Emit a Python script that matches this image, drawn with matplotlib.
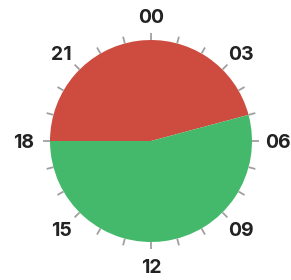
import matplotlib
matplotlib.use("Agg")
import matplotlib.pyplot as plt
import numpy as np

segments = ["night", "day"]
hours = [11, 13]          # 18:00 -> 05:00 red, 05:00 -> 18:00 green
colors = ["#cd4c3f", "#44b96b"]
tick_hours = list(range(24))
label_hours = [0, 3, 6, 9, 12, 15, 18, 21]
labels = ["00", "03", "06", "09", "12", "15", "18", "21"]

plt.rcParams['font.family'] = ['Inter', 'DejaVu Sans']

fig = plt.figure(figsize=(2.91, 2.80), dpi=100)
ax = fig.add_axes([0, 0, 1, 1])
ax.axis('off')

R = 101
ax.pie(hours, colors=colors, startangle=180, counterclock=False, radius=R,
       center=(0, 0), wedgeprops=dict(linewidth=0))
ax.set_xlim(-151, 140)
ax.set_ylim(-139, 141)
ax.set_aspect('equal')

for h in tick_hours:
    a = np.deg2rad(90 - h * 15)
    ax.plot([R * np.cos(a), (R + 7) * np.cos(a)], [R * np.sin(a), (R + 7) * np.sin(a)],
            color="#a0a0a0", lw=1.3, solid_capstyle='butt')

for h, lab in zip(label_hours, labels):
    a = np.deg2rad(90 - h * 15)
    ax.text(127 * np.cos(a), 125 * np.sin(a), lab, ha='center', va='center_baseline',
            fontsize=14, fontweight='bold', color="#222222")

fig.savefig("out.png", dpi=100)
